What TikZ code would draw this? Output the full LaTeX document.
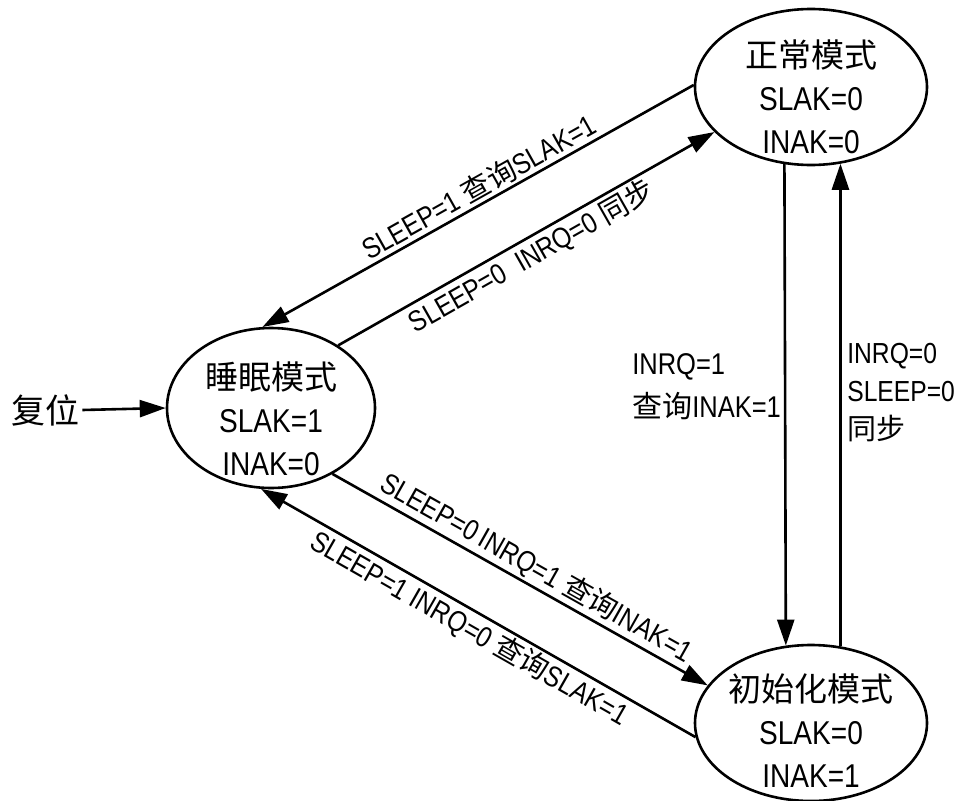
\documentclass[tikz,border=0pt]{standalone}
\usepackage{fontspec}
\setmainfont{Liberation Sans}[FakeStretch=0.85]
\newfontfamily\cjk{Noto Sans CJK SC}
\usetikzlibrary{arrows.meta,shapes.geometric}
\begin{document}
\begin{tikzpicture}[x=1pt,y=-1pt,line width=2.6pt,
  state/.style={draw,ellipse,minimum width=232pt,minimum height=156pt,inner sep=0pt},
  stxt/.style={align=center,font=\fontsize{33}{43}\selectfont,inner sep=0pt},
  lbl/.style={font=\fontsize{29}{38}\selectfont,inner sep=2pt},
  arr/.style={-{Triangle[length=26pt,width=17pt]}}]
\useasboundingbox (0,0) rectangle (955,800);
% states
\node[state,minimum width=208pt,minimum height=160pt] (sleep) at (271,408) {};
\node[state] (normal) at (811,87) {};
\node[state] (init) at (811,723) {};
\node[stxt] (sleept) at ([yshift=-11pt]sleep.center) {{\cjk 睡眠模式}\\SLAK=1\\INAK=0};
\node[stxt] (normalt) at ([yshift=-10pt]normal.center) {{\cjk 正常模式}\\SLAK=0\\INAK=0};
\node[stxt] (initt) at ([yshift=-8pt]init.center) {{\cjk 初始化模式}\\SLAK=0\\INAK=1};
% reset
\node[font=\fontsize{34}{40}\selectfont\cjk,inner sep=1pt] (reset) at (46,410) {复位};
\draw[arr] (reset.east) -- (sleep.west);
% diagonal transitions
\draw[arr] (normal.179) -- (sleep.96)
  node[lbl,pos=0.48,sloped,above] (l1) {SLEEP=1 {\cjk 查询}SLAK=1};
\draw[arr] (sleep.43.4) -- (normal.205.6)
  node[lbl,pos=0.49,sloped,below] (l2) {SLEEP=0\hspace{0.5em}INRQ=0 {\cjk 同步}};
\draw[arr] (sleep.-47.3) -- (init.160.9)
  node[lbl,pos=0.52,sloped,above] (l3) {SLEEP=0\,INRQ=1 {\cjk 查询}INAK=1};
\draw[arr] (init.187) -- (sleep.263.4)
  node[lbl,pos=0.5,sloped,below] (l4) {SLEEP=1 INRQ=0 {\cjk 查询}SLAK=1};
% vertical transitions
\draw[arr] (normal.251.8) -- (init.108.2);
\draw[arr] (init.69) -- (normal.291);
\node[lbl,anchor=west,align=left,font=\fontsize{30}{43}\selectfont] (lq) at (629,387) {INRQ=1\\{\cjk 查询}INAK=1};
\node[lbl,anchor=west,align=left,font=\fontsize{29}{38}\selectfont] (rq) at (844,393) {INRQ=0\\SLEEP=0\\{\cjk 同步}};
\end{tikzpicture}
\end{document}
